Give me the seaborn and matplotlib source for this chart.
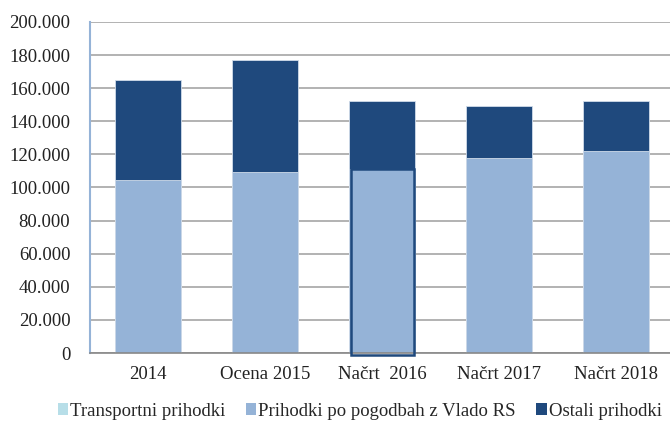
import numpy as np
import pandas as pd
import matplotlib
matplotlib.use("Agg")
import matplotlib.pyplot as plt
import seaborn as sns
from matplotlib.patches import Patch
from matplotlib.ticker import FuncFormatter

# ==============================
# Data (thousand EUR)
# ==============================
categories = ["2014", "Ocena 2015", "Načrt  2016", "Načrt 2017", "Načrt 2018"]
transportni = [0, 0, 0, 0, 0]
pogodbe_vlada = [104500, 109500, 111000, 118000, 122000]
ostali = [60500, 67500, 41500, 31500, 30500]

series_names = ["Transportni prihodki", "Prihodki po pogodbah z Vlado RS", "Ostali prihodki"]
colors = ["#B7DEE8", "#95B3D7", "#1F497D"]

df = pd.DataFrame({
    "kategorija": categories,
    "transportni": transportni,
    "vlada": pogodbe_vlada,
    "ostali": ostali,
})
df["total"] = df["transportni"] + df["vlada"] + df["ostali"]
df["spodaj"] = df["transportni"] + df["vlada"]

# ==============================
# Plot
# ==============================
sns.set_style("white")
plt.rcParams["font.family"] = ["Liberation Serif", "DejaVu Serif"]

fig = plt.figure(figsize=(6.7, 4.3), dpi=100)
ax = fig.add_axes([0.134, 0.179, 0.873, 0.770])

ax.yaxis.grid(True, color="#A6A6A6", linewidth=1.2)
ax.set_axisbelow(True)

bar_w = 0.565
sns.barplot(data=df, x="kategorija", y="total", color=colors[2], saturation=1,
            width=bar_w, ax=ax, edgecolor="#D0DCEA", linewidth=0.6)
sns.barplot(data=df, x="kategorija", y="spodaj", color=colors[1], saturation=1,
            width=bar_w, ax=ax, edgecolor="#D0DCEA", linewidth=0.6)
sns.barplot(data=df, x="kategorija", y="transportni", color=colors[0], saturation=1,
            width=bar_w, ax=ax, linewidth=0)

# selected bar outline (Načrt 2016)
sel = 2
ax.bar(sel, df["spodaj"][sel] + 1200, bottom=-1200, width=bar_w - 0.03,
       fill=False, edgecolor=colors[2], linewidth=1.8, zorder=5, clip_on=False)

ax.set_ylim(0, 200000)
ax.set_xlim(-0.5, 4.5)
ax.set_yticks(np.arange(0, 200001, 20000))
ax.yaxis.set_major_formatter(
    FuncFormatter(lambda v, p: "0" if v == 0 else f"{int(v):,}".replace(",", ".")))
ax.set_xlabel("")
ax.set_ylabel("")
ax.tick_params(axis="both", length=0, labelsize=13.5, colors="#222222")
ax.tick_params(axis="y", pad=14)
ax.tick_params(axis="x", pad=9)

for s in ["top", "right"]:
    ax.spines[s].set_visible(False)
ax.spines["left"].set_color("#95B3D7")
ax.spines["left"].set_linewidth(1.5)
ax.spines["bottom"].set_color("#888888")
ax.spines["bottom"].set_linewidth(1.2)

handles = [Patch(facecolor=c, edgecolor="none") for c in colors]
fig.legend(handles, series_names, loc="lower center", bbox_to_anchor=(0.537, -0.015),
           ncol=3, frameon=False, fontsize=13.5, handlelength=0.55, handleheight=0.55,
           handletextpad=0.1, columnspacing=1.1)

fig.savefig("out.png", dpi=100)
